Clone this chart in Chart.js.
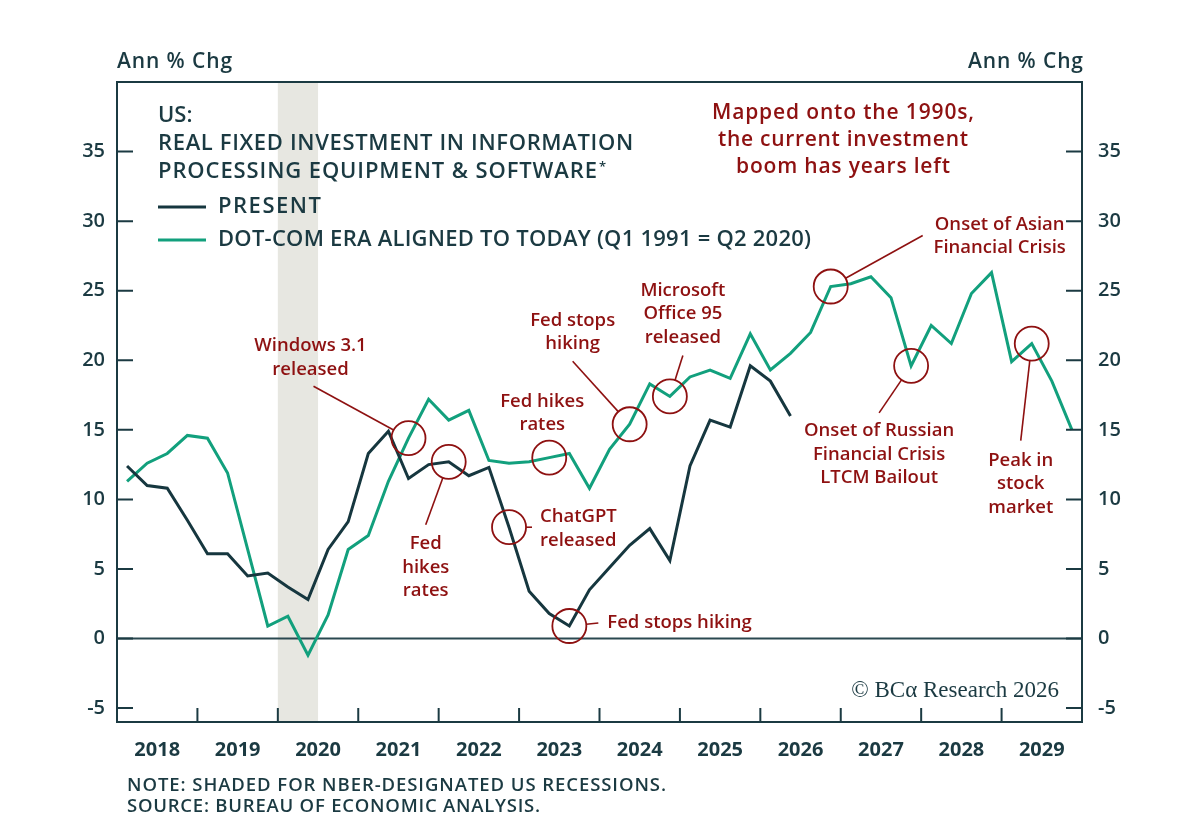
<!DOCTYPE html>
<html>
<head>
<meta charset="utf-8">
<script src="https://cdn.jsdelivr.net/npm/chart.js@4/dist/chart.umd.min.js"></script>
<style>
html,body{margin:0;padding:0;background:#ffffff;}
#wrap{width:1200px;height:830px;position:relative;}
canvas{display:block;}
</style>
</head>
<body>
<div id="wrap"><canvas id="c" width="1200" height="830"></canvas></div>
<script>
// ---------------- DATA ----------------
const quarters = [
  "2018Q1","2018Q2","2018Q3","2018Q4","2019Q1","2019Q2","2019Q3","2019Q4",
  "2020Q1","2020Q2","2020Q3","2020Q4","2021Q1","2021Q2","2021Q3","2021Q4",
  "2022Q1","2022Q2","2022Q3","2022Q4","2023Q1","2023Q2","2023Q3","2023Q4",
  "2024Q1","2024Q2","2024Q3","2024Q4","2025Q1","2025Q2","2025Q3","2025Q4",
  "2026Q1","2026Q2","2026Q3","2026Q4","2027Q1","2027Q2","2027Q3","2027Q4",
  "2028Q1","2028Q2","2028Q3","2028Q4","2029Q1","2029Q2","2029Q3","2029Q4"
];
const years = ["2018","2019","2020","2021","2022","2023","2024","2025","2026","2027","2028","2029"];
const presentValues = [
  12.4, 11.0, 10.8, 8.5, 6.1, 6.1, 4.5, 4.7,
  3.7, 2.8, 6.4, 8.4, 13.3, 14.9, 11.5, 12.5,
  12.7, 11.7, 12.3, 8.0, 3.4, 1.8, 0.9, 3.5,
  5.1, 6.7, 7.9, 5.6, 12.4, 15.7, 15.2, 19.6,
  18.5, 16.0
];
const dotcomValues = [
  11.3, 12.6, 13.3, 14.6, 14.4, 11.9, 6.4, 0.9,
  1.6, -1.2, 1.7, 6.4, 7.4, 11.3, 14.4, 17.2,
  15.7, 16.4, 12.8, 12.6, 12.7, 13.0, 13.3, 10.8,
  13.6, 15.4, 18.3, 17.4, 18.8, 19.3, 18.7, 21.9,
  19.3, 20.5, 22.0, 25.3, 25.5, 26.0, 24.5, 19.6,
  22.5, 21.2, 24.8, 26.3, 19.9, 21.2, 18.5, 15.0
];
const yTickValues = [-5, 0, 5, 10, 15, 20, 25, 30, 35];
const recessionQuarters = ["2020Q1", "2020Q2"];
const seriesNames = ["PRESENT", "DOT-COM ERA ALIGNED TO TODAY (Q1 1991 = Q2 2020)"];
const unitLabel = "Ann % Chg";
const titleLines = ["US:", "REAL FIXED INVESTMENT IN INFORMATION", "PROCESSING EQUIPMENT & SOFTWARE"];
const headlineLines = ["Mapped onto the 1990s,", "the current investment", "boom has years left"];
const footnotes = ["NOTE: SHADED FOR NBER-DESIGNATED US RECESSIONS.", "SOURCE: BUREAU OF ECONOMIC ANALYSIS."];
const copyrightText = "\u00A9 BC\u03B1 Research 2026";

// annotations: anchored to a data point of a series (offsets in px are layout)
const annotations = [
  {series:1, q:"2021Q3", text:["Windows 3.1","released"], tx:-98, ty:-92, align:"center", line:[-95,-52]},
  {series:0, q:"2022Q1", text:["Fed","hikes","rates"], tx:-23, ty:82, align:"center", line:[-23,63]},
  {series:0, q:"2022Q4", text:["ChatGPT","released"], tx:31, ty:-10, align:"left", line:[23,0]},
  {series:0, q:"2023Q3", text:["Fed stops hiking"], tx:38, ty:-3, align:"left", line:[29,-3]},
  {series:1, q:"2023Q2", text:["Fed hikes","rates"], tx:-7, ty:-56, align:"center", line:null},
  {series:1, q:"2024Q2", text:["Fed stops","hiking"], tx:-57, ty:-104, align:"center", line:[-57,-63]},
  {series:1, q:"2024Q4", text:["Microsoft","Office 95","released"], tx:13, ty:-106, align:"center", line:[13,-41]},
  {series:1, q:"2026Q4", text:["Onset of Asian","Financial Crisis"], tx:169, ty:-62, align:"center", line:[92,-51]},
  {series:1, q:"2027Q4", text:["Onset of Russian","Financial Crisis","LTCM Bailout"], tx:-32, ty:65, align:"center", line:[-32,47]},
  {series:1, q:"2029Q2", text:["Peak in","stock","market"], tx:-11, ty:117, align:"center", line:[-11,97]}
];

// ---------------- STYLE ----------------
const FONT = "'Open Sans', Lato, sans-serif";
const INK = "#1b3a42";
const DARK = "#16373f";
const GREEN = "#12a07d";
const RED = "#8e1111";
const SHADE = "#e7e7e1";

// draw text adjusted to a target width with letter spacing
function fitText(ctx, text, x, y, target) {
  const hasLS = "letterSpacing" in ctx;
  if (hasLS) ctx.letterSpacing = "0px";
  const w = ctx.measureText(text).width;
  if (target && hasLS && text.length > 1) {
    const ls = (target - w) / (text.length - 1);
    ctx.letterSpacing = ls.toFixed(2) + "px";
    let dx = 0;
    if (ctx.textAlign === "center") dx = ls / 2;
    else if (ctx.textAlign === "right") dx = ls;
    ctx.fillText(text, x + dx, y);
    ctx.letterSpacing = "0px";
    return target;
  }
  ctx.fillText(text, x, y);
  return w;
}

const decor = {
  id: "decor",
  beforeDatasetsDraw(chart) {
    const {ctx, chartArea: a, scales} = chart;
    const x = scales.x, y = scales.y;
    const half = (x.getPixelForValue(1) - x.getPixelForValue(0)) / 2;
    ctx.save();
    const i0 = quarters.indexOf(recessionQuarters[0]);
    const i1 = quarters.indexOf(recessionQuarters[recessionQuarters.length - 1]);
    ctx.fillStyle = SHADE;
    const xs = x.getPixelForValue(i0) - half, xe = x.getPixelForValue(i1) + half;
    ctx.fillRect(xs, a.top, xe - xs, a.bottom - a.top);
    ctx.strokeStyle = "#2a4850";
    ctx.lineWidth = 1.8;
    ctx.beginPath();
    ctx.moveTo(a.left, y.getPixelForValue(0));
    ctx.lineTo(a.right, y.getPixelForValue(0));
    ctx.stroke();
    ctx.restore();
  },
  afterDatasetsDraw(chart) {
    const {ctx, chartArea: a, scales} = chart;
    const x = scales.x, y = scales.y;
    const half = (x.getPixelForValue(1) - x.getPixelForValue(0)) / 2;
    ctx.save();
    ctx.strokeStyle = INK;
    ctx.lineWidth = 2;
    ctx.strokeRect(a.left, a.top, a.right - a.left, a.bottom - a.top);
    yTickValues.forEach(v => {
      const py = y.getPixelForValue(v);
      ctx.beginPath();
      ctx.moveTo(a.left, py); ctx.lineTo(a.left + 16, py);
      ctx.moveTo(a.right, py); ctx.lineTo(a.right - 16, py);
      ctx.stroke();
    });
    for (let k = 1; k < years.length; k++) {
      const px = x.getPixelForValue(k * 4) - half;
      ctx.beginPath();
      ctx.moveTo(px, a.bottom); ctx.lineTo(px, a.bottom - 14);
      ctx.stroke();
    }
    // annotations
    const series = [presentValues, dotcomValues];
    ctx.strokeStyle = RED;
    ctx.fillStyle = RED;
    ctx.font = "600 18.5px " + FONT;
    ctx.textBaseline = "middle";
    const R = 17;
    annotations.forEach(an => {
      const i = quarters.indexOf(an.q);
      const cx = x.getPixelForValue(i), cy = y.getPixelForValue(series[an.series][i]);
      ctx.lineWidth = 1.8;
      ctx.beginPath(); ctx.arc(cx, cy, R, 0, Math.PI * 2); ctx.stroke();
      if (an.line) {
        const ex = cx + an.line[0], ey = cy + an.line[1];
        const d = Math.hypot(an.line[0], an.line[1]);
        ctx.lineWidth = 1.6;
        ctx.beginPath();
        ctx.moveTo(cx + an.line[0] / d * R, cy + an.line[1] / d * R);
        ctx.lineTo(ex, ey);
        ctx.stroke();
      }
      ctx.textAlign = an.align;
      an.text.forEach((t, j) => ctx.fillText(t, cx + an.tx, cy + an.ty + j * 23.5));
    });
    ctx.restore();
  },
  afterDraw(chart) {
    const {ctx} = chart;
    ctx.save();
    ctx.fillStyle = INK;
    ctx.textBaseline = "middle";
    ctx.font = "600 21px " + FONT;
    ctx.textAlign = "left";
    fitText(ctx, unitLabel, 117, 62, 115);
    ctx.textAlign = "right";
    fitText(ctx, unitLabel, 1083, 62, 115);
    // title
    ctx.textAlign = "left";
    ctx.font = "600 22px " + FONT;
    fitText(ctx, titleLines[0], 158, 116, 0);
    fitText(ctx, titleLines[1], 158, 144, 475);
    const w3 = fitText(ctx, titleLines[2], 158, 172, 439);
    ctx.font = "600 13px " + FONT;
    ctx.fillText("*", 158 + w3 + 2, 167);
    // legend
    ctx.font = "600 22px " + FONT;
    const leg = [[DARK, 207, 103], [GREEN, 240, 593]];
    leg.forEach((l, j) => {
      ctx.strokeStyle = l[0];
      ctx.lineWidth = 3;
      ctx.beginPath(); ctx.moveTo(158, l[1]); ctx.lineTo(206, l[1]); ctx.stroke();
      ctx.fillStyle = INK;
      fitText(ctx, seriesNames[j], 218, l[1], l[2]);
    });
    // red headline
    ctx.fillStyle = RED;
    ctx.textAlign = "center";
    ctx.font = "600 21px " + FONT;
    const hw = [262, 250, 214];
    headlineLines.forEach((t, j) => fitText(ctx, t, 843, 113 + j * 27, hw[j]));
    // copyright
    ctx.fillStyle = INK;
    ctx.textAlign = "right";
    ctx.font = "23px 'Liberation Serif', 'DejaVu Serif', serif";
    ctx.fillText(copyrightText, 1059, 691);
    // footnotes
    ctx.textAlign = "left";
    ctx.font = "600 18.5px " + FONT;
    fitText(ctx, footnotes[0], 127, 786, 539);
    fitText(ctx, footnotes[1], 127, 807, 413);
    ctx.restore();
  }
};

const yCommon = {
  min: -6, max: 40,
  grid: {display: false, drawTicks: false, tickLength: 0},
  border: {display: false},
  afterBuildTicks(s) { s.ticks = yTickValues.map(v => ({value: v})); },
  ticks: {color: INK, font: {family: FONT, size: 20, weight: "600"}, autoSkip: false}
};

new Chart(document.getElementById("c"), {
  type: "line",
  data: {
    labels: quarters,
    datasets: [
      {label: seriesNames[0], data: presentValues, borderColor: DARK, borderWidth: 3, pointRadius: 0, tension: 0, fill: false, borderJoinStyle: "miter"},
      {label: seriesNames[1], data: dotcomValues, borderColor: GREEN, borderWidth: 3, pointRadius: 0, tension: 0, fill: false, borderJoinStyle: "miter"}
    ]
  },
  options: {
    responsive: false,
    animation: false,
    devicePixelRatio: 1,
    layout: {padding: {top: 82, left: 0, right: 0, bottom: 0}},
    plugins: {legend: {display: false}, tooltip: {enabled: false}, title: {display: false}},
    scales: {
      x: {type: "category", labels: quarters, offset: true, display: false},
      xYear: {
        type: "category", labels: years, position: "bottom", offset: true,
        grid: {display: false, drawTicks: false, tickLength: 0},
        border: {display: false},
        ticks: {color: INK, font: {family: FONT, size: 20, weight: "700"}, padding: 16, maxRotation: 0, autoSkip: false},
        afterFit(s) { s.height = 108; }
      },
      y: Object.assign({}, yCommon, {position: "left", ticks: Object.assign({}, yCommon.ticks, {padding: 12}), afterFit(s) { s.width = 117; }}),
      y2: Object.assign({}, yCommon, {position: "right", ticks: Object.assign({}, yCommon.ticks, {padding: 16}), afterFit(s) { s.width = 118; }})
    }
  },
  plugins: [decor]
});
</script>
</body>
</html>
